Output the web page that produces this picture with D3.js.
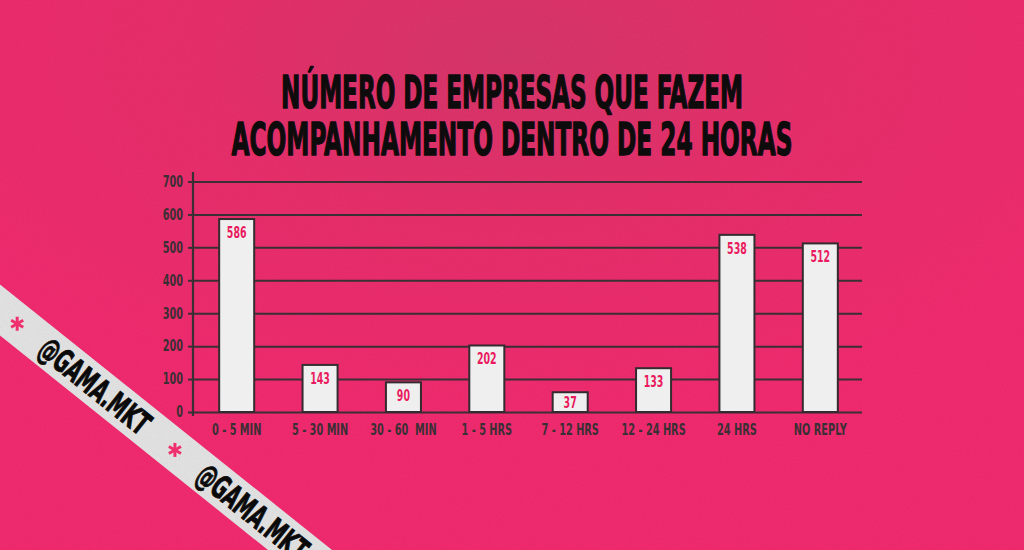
<!DOCTYPE html>
<html>
<head>
<meta charset="utf-8">
<script src="https://cdn.jsdelivr.net/npm/d3@7"></script>
<style>
html,body{margin:0;padding:0;background:#ea2f6c;}
svg{display:block;}
text{font-family:"DejaVu Sans Condensed","DejaVu Sans",sans-serif;font-weight:700;}
</style>
</head>
<body>
<svg id="chart" width="1024" height="550"></svg>
<script>
// ---- data ----
const titleLines = ["NÚMERO DE EMPRESAS QUE FAZEM", "ACOMPANHAMENTO DENTRO DE 24 HORAS"];
const categories = ["0 - 5 MIN", "5 - 30 MIN", "30 - 60  MIN", "1 - 5 HRS", "7 - 12 HRS", "12 - 24 HRS", "24 HRS", "NO REPLY"];
const values = [586, 143, 90, 202, 37, 133, 538, 512];          // printed labels
const barHeights = [586, 143, 90, 202, 60, 133, 538, 512];      // bar tops as drawn in the picture
const yTicks = [0, 100, 200, 300, 400, 500, 600, 700];
const ribbonText = "@GAMA.MKT";

// ---- setup ----
const W = 1024, H = 550;
const svg = d3.select("#chart");
const defs = svg.append("defs");

const bg = defs.append("radialGradient").attr("id", "bg")
  .attr("cx", "50%").attr("cy", "10%").attr("r", "70%");
bg.append("stop").attr("offset", "0%").attr("stop-color", "#da376c");
bg.append("stop").attr("offset", "45%").attr("stop-color", "#eb2f6d");
bg.append("stop").attr("offset", "100%").attr("stop-color", "#f62b71");

const noise = defs.append("filter").attr("id", "grain");
noise.append("feTurbulence").attr("type", "fractalNoise").attr("baseFrequency", 0.9).attr("numOctaves", 2).attr("result", "n");
noise.append("feColorMatrix").attr("in", "n").attr("type", "matrix")
  .attr("values", "0 0 0 0 0  0 0 0 0 0  0 0 0 0 0  0 0 0 0.07 0");
noise.append("feComposite").attr("in2", "SourceGraphic").attr("operator", "in");

svg.append("rect").attr("width", W).attr("height", H).attr("fill", "url(#bg)");
svg.append("rect").attr("width", W).attr("height", H).attr("fill", "#fff").attr("filter", "url(#grain)");

// horizontally condense a text element around its anchor point
function condense(sel, f) {
  sel.each(function () {
    const t = d3.select(this);
    const ax = +t.attr("x") || 0;
    const fx = typeof f === "function" ? f.call(this, this.getComputedTextLength()) : f;
    const prev = t.attr("transform") || "";
    t.attr("transform", `${prev} translate(${ax},0) scale(${fx},1) translate(${-ax},0)`);
  });
}

// ---- title ----
const titleWidths = [462, 561];
svg.append("g").selectAll("text").data(titleLines).join("text")
  .attr("x", 512)
  .attr("y", (d, i) => 108 + i * 47)
  .attr("text-anchor", "middle")
  .attr("font-size", 44)
  .attr("fill", "#0d0b0c")
  .attr("stroke", "#0d0b0c")
  .attr("stroke-width", 1.3)
  .attr("stroke-linejoin", "round")
  .text(d => d)
  .each(function (d, i) {
    const w = this.getComputedTextLength();
    d3.select(this).attr("transform", `translate(512,0) scale(${titleWidths[i] / w},1) translate(-512,0)`);
  });

// ---- scales ----
const axisX = 193, right = 862;
const y = d3.scaleLinear().domain([0, 700]).range([412, 181.5]);
const x = d3.scaleBand().domain(categories).range([195, 862]).paddingInner(0.58).paddingOuter(0.29);

const ink = "#3a2f34";

// gridlines
const grid = svg.append("g").attr("transform", `translate(${axisX},0)`)
  .call(d3.axisLeft(y).tickValues(yTicks).tickSize(-(right - axisX)).tickFormat(""));
grid.select(".domain").remove();
grid.selectAll("line").attr("stroke", ink).attr("stroke-width", 2);

// y axis
const yAxis = svg.append("g").attr("transform", `translate(${axisX},0)`)
  .call(d3.axisLeft(y).tickValues(yTicks).tickSize(5).tickPadding(5));
yAxis.select(".domain").remove();
yAxis.append("line").attr("x1", 0).attr("x2", 0).attr("y1", 172).attr("y2", 416)
  .attr("stroke", ink).attr("stroke-width", 2.2);
yAxis.selectAll(".tick line").attr("stroke", ink).attr("stroke-width", 2);
yAxis.selectAll(".tick text").attr("fill", ink).attr("font-size", 15)
  .attr("font-family", '"DejaVu Sans Condensed",sans-serif').attr("font-weight", 700)
  .call(condense, 0.72);

// bars
const bw = x.bandwidth();
svg.append("g").selectAll("rect").data(categories).join("rect")
  .attr("x", d => x(d))
  .attr("y", (d, i) => y(barHeights[i]))
  .attr("width", bw)
  .attr("height", (d, i) => y(0) - y(barHeights[i]))
  .attr("fill", "#efefef")
  .attr("stroke", "#332b2f")
  .attr("stroke-width", 2);

// value labels
svg.append("g").selectAll("text").data(categories).join("text")
  .attr("x", d => x(d) + bw / 2)
  .attr("y", (d, i) => {
    const top = y(barHeights[i]);
    const h = y(0) - top;
    return top + Math.min(19, h / 2 + 6);
  })
  .attr("text-anchor", "middle")
  .attr("font-size", 15)
  .attr("fill", "#ea1a5e")
  .text((d, i) => values[i])
  .call(condense, 0.7);

// x labels
const xAxis = svg.append("g").attr("transform", `translate(0,${y(0)})`)
  .call(d3.axisBottom(x).tickSize(0).tickPadding(12));
xAxis.select(".domain").remove();
xAxis.selectAll(".tick text").attr("fill", ink).attr("font-size", 16)
  .attr("font-family", '"DejaVu Sans Condensed",sans-serif').attr("font-weight", 700)
  .style("white-space", "pre")
  .call(condense, 0.68);

// ---- ribbon ----
const ang = Math.atan(0.8) * 180 / Math.PI;
const rib = svg.append("g").attr("transform", `translate(0,310) rotate(${ang})`);
rib.append("rect").attr("x", -200).attr("y", -20).attr("width", 1000).attr("height", 40).attr("fill", "#e7e7e7");
rib.append("rect").attr("x", -200).attr("y", -20).attr("width", 1000).attr("height", 40).attr("fill", "#000").attr("filter", "url(#grain)");
const period = 202;
const reps = d3.range(-1, 2);
rib.selectAll("text.rt").data(reps).join("text").attr("class", "rt")
  .attr("x", k => 55 + k * period)
  .attr("y", 11.5)
  .attr("font-size", 32)
  .attr("fill", "#0b0a0a")
  .attr("stroke", "#0b0a0a")
  .attr("stroke-width", 0.9)
  .text(ribbonText)
  .call(condense, function (w) { return 133 / w; });
const stars = rib.selectAll("g.star").data(reps).join("g").attr("class", "star")
  .attr("transform", k => `translate(${22 + k * period},0) rotate(${-ang})`);
[0, 60, 120].forEach(a => {
  stars.append("line")
    .attr("x1", -7).attr("x2", 7).attr("y1", 0).attr("y2", 0)
    .attr("transform", `rotate(${a + 90})`)
    .attr("stroke", "#f0306e").attr("stroke-width", 3).attr("stroke-linecap", "butt");
});
</script>
</body>
</html>
